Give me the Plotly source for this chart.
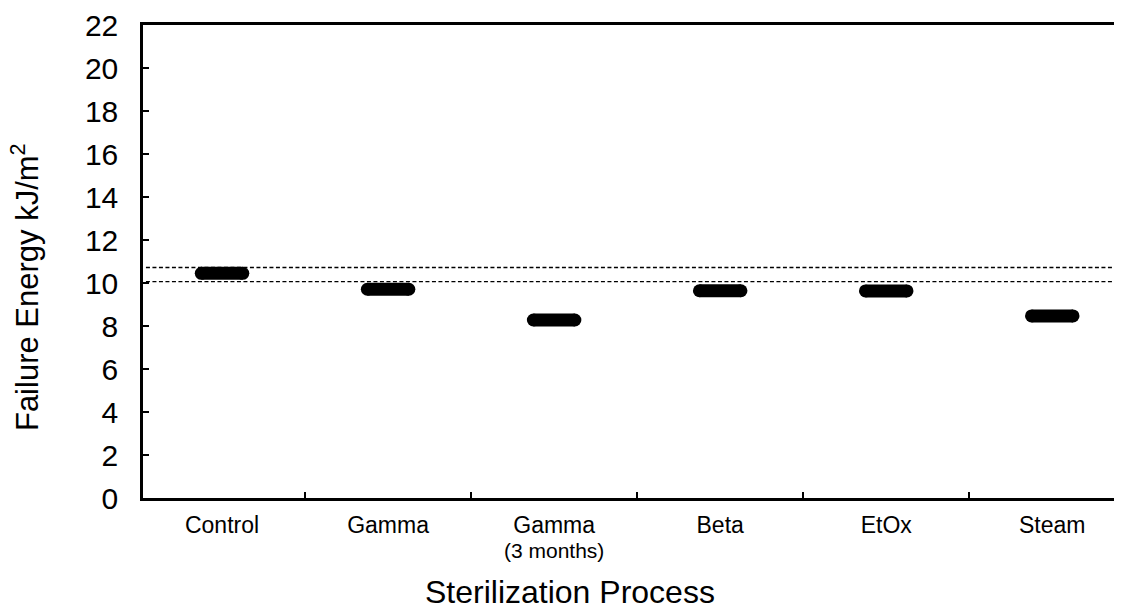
import plotly.graph_objects as go

categories = ["Control", "Gamma", "Gamma (3 months)", "Beta", "EtOx", "Steam"]
tick_labels = ["Control", "Gamma", "Gamma", "Beta", "EtOx", "Steam"]
sub_labels = ["", "", "(3 months)", "", "", ""]
failure_energy = [10.45, 9.71, 8.28, 9.64, 9.63, 8.47]
reference_band = [10.06, 10.72]
y_ticks = [0, 2, 4, 6, 8, 10, 12, 14, 16, 18, 20, 22]

FONT = "Liberation Sans, Arial, Helvetica, sans-serif"
HALF = 0.125
BAR_W = 13

fig = go.Figure()
for i, (cat, v) in enumerate(zip(categories, failure_energy)):
    fig.add_trace(go.Scatter(
        x=[i - HALF, i + HALF], y=[v, v], mode="lines+markers",
        line=dict(color="black", width=BAR_W),
        marker=dict(color="black", size=BAR_W, line=dict(width=0)),
        name=cat, showlegend=False, hoverinfo="y"))

for yv in reference_band:
    fig.add_shape(type="line", xref="paper", yref="y", x0=0.003, x1=1, y0=yv, y1=yv,
                  line=dict(color="black", width=1.3, dash="4px,2.5px"))

for i, s in enumerate(sub_labels):
    if s:
        fig.add_annotation(text=s, xref="x", yref="paper", x=i, y=-0.11,
                           yanchor="middle", showarrow=False,
                           font=dict(family=FONT, size=21, color="black"))

fig.add_annotation(text="Sterilization Process", xref="paper", yref="paper",
                   x=0.436, y=-0.198, yanchor="middle", showarrow=False,
                   font=dict(family=FONT, size=32, color="black"))
fig.add_annotation(text="Failure Energy kJ/m<sup>2</sup>", xref="paper", yref="paper",
                   x=-0.121, xanchor="center", y=0.445, yanchor="middle", textangle=-90,
                   showarrow=False, font=dict(family=FONT, size=31, color="black"))

fig.update_layout(
    width=1114, height=598,
    margin=dict(l=135, r=0, t=14, b=108),
    paper_bgcolor="white", plot_bgcolor="white",
    font=dict(family=FONT, color="black"),
    xaxis=dict(range=[-0.476, 5.42], tickvals=list(range(len(categories))),
               ticktext=tick_labels, ticks="", showgrid=False, zeroline=False,
               showline=True, linecolor="black", linewidth=2.5, mirror=True,
               ticklabelstandoff=5,
               tickfont=dict(size=23, family=FONT, color="black"),
               minor=dict(tickvals=[0.5, 1.5, 2.5, 3.5, 4.5], ticks="inside",
                          ticklen=6, tickwidth=2, tickcolor="black", showgrid=False)),
    yaxis=dict(range=[0, 22], tickvals=y_ticks, ticks="inside", ticklen=6, tickwidth=2,
               tickcolor="black", showgrid=False, zeroline=False, showline=True,
               linecolor="black", linewidth=2.5, ticklabelstandoff=16,
               ticklabeloverflow="allow",
               tickfont=dict(size=30, family=FONT, color="black")),
)

fig.write_html("out.html")
